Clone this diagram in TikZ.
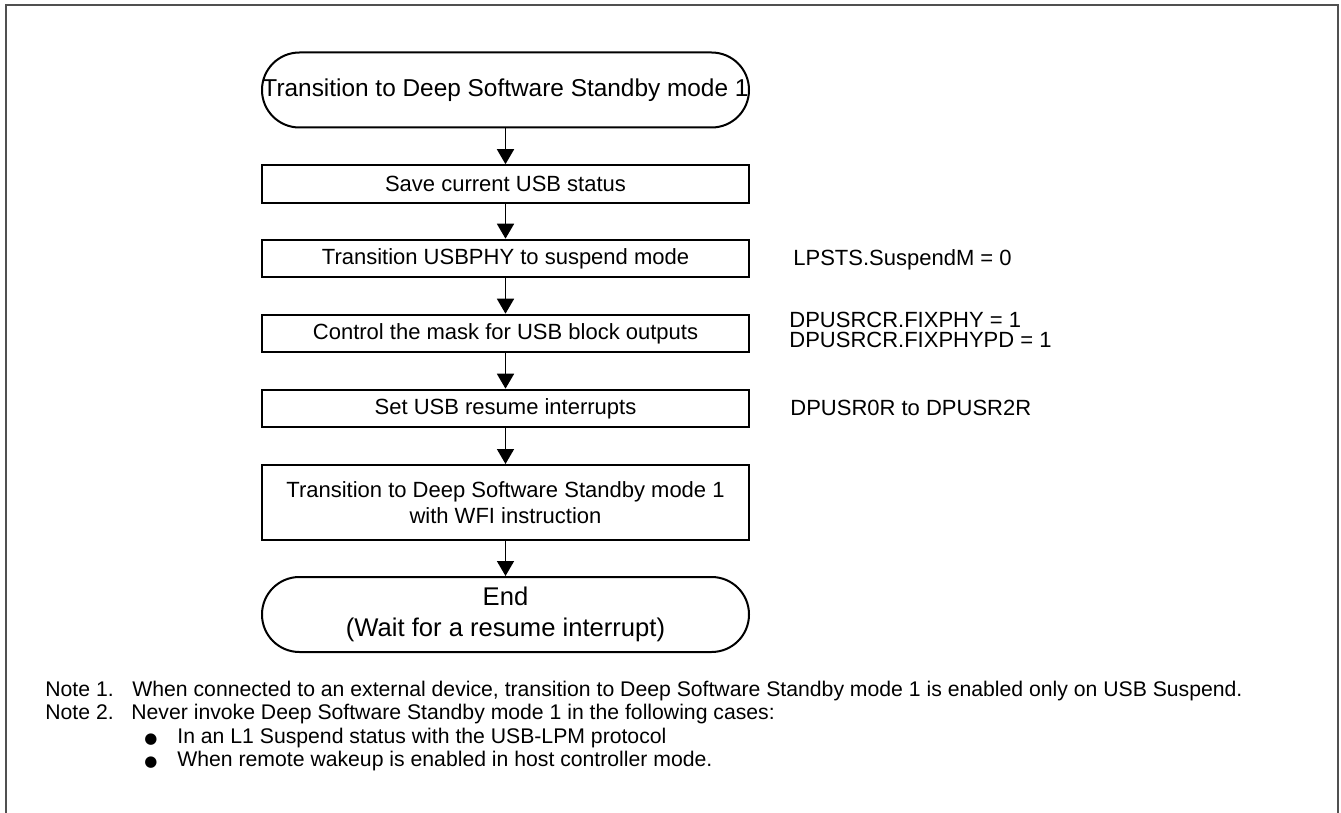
\documentclass[tikz,border=0pt]{standalone}
\usepackage{fontspec}
\setmainfont{Liberation Sans}
\newfontfamily\symfont{DejaVu Sans}
\usetikzlibrary{arrows.meta}
\definecolor{framegray}{HTML}{505050}

\begin{document}
\begin{tikzpicture}[x=0.5pt,y=-0.5pt,
          terminal/.style={draw, line width=1pt, rounded corners=18.7pt, minimum width=243.5pt, minimum height=37.5pt, inner xsep=0pt, align=center, font=\fontsize{12.2}{15.5}\selectfont},
          proc/.style={draw, line width=1pt, minimum width=243.5pt, minimum height=18.8pt, inner xsep=0pt, align=center, font=\fontsize{11}{12.65}\selectfont},
          reg/.style={anchor=west, align=left, inner sep=0pt, font=\fontsize{11}{10}\selectfont},
          note/.style={anchor=base west, inner sep=0pt, font=\fontsize{10.6}{12}\selectfont},
          arrow/.style={-{Triangle[width=8.5pt,length=7.5pt]}, line width=0.85pt}
        ]
          \useasboundingbox (0,0) rectangle (1341,813);
          \draw[framegray, line width=1pt] (6,813) -- (6,5) -- (1338,5) -- (1338,813);
          \node[terminal] (start) at (505.5,90) {Transition to Deep Software Standby mode 1};
          \node[proc] (save) at (505.5,184) {Save current USB status};
          \node[proc] (phy) at (505.5,258.5) {Transition USBPHY to suspend mode};
          \node[proc] (mask) at (505.5,333.5) {Control the mask for USB block outputs};
          \node[proc] (resume) at (505.5,408.5) {Set USB resume interrupts};
          \node[proc, minimum height=37.5pt] (wfi) at (505.5,502.5) {Transition to Deep Software Standby mode 1\\with WFI instruction};
          \node[terminal, font=\fontsize{12.8}{15.5}\selectfont] (end) at (505.5,614.5) {End\\(Wait for a resume interrupt)};
          \node[reg] (phyreg) at (793,259.5) {LPSTS.SuspendM = 0};
          \node[reg] (maskreg) at (789,330) {DPUSRCR.FIXPHY = 1\\DPUSRCR.FIXPHYPD = 1};
          \node[reg] (resumereg) at (790,407.5) {DPUSR0R to DPUSR2R};
          \draw[arrow] (start) -- (save);
          \draw[arrow] (save) -- (phy);
          \draw[arrow] (phy) -- (mask);
          \draw[arrow] (mask) -- (resume);
          \draw[arrow] (resume) -- (wfi);
          \draw[arrow] (wfi) -- (end);
          \node[note] (note1) at (45,696) {Note 1.};
          \node[note] (note1txt) at (132,696) {When connected to an external device, transition to Deep Software Standby mode 1 is enabled only on USB Suspend.};
          \node[note] (note2) at (45,719) {Note 2.};
          \node[note] (note2txt) at (131,719) {Never invoke Deep Software Standby mode 1 in the following cases:};
          \node[note, font=\symfont\fontsize{7.5}{9}\selectfont] (dot1) at (144,743) {●};
          \node[note] (item1) at (177,743) {In an L1 Suspend status with the USB-LPM protocol};
          \node[note, font=\symfont\fontsize{7.5}{9}\selectfont] (dot2) at (144,766) {●};
          \node[note] (item2) at (177,766) {When remote wakeup is enabled in host controller mode.};
        \end{tikzpicture}
\end{document}
